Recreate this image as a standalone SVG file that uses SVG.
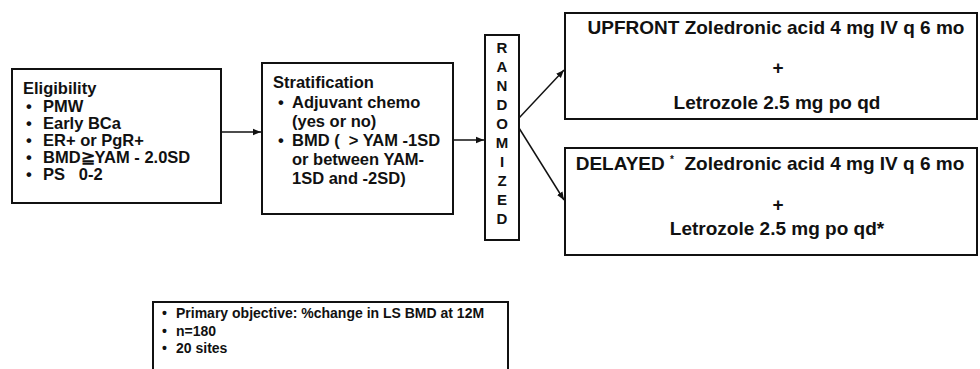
<svg xmlns="http://www.w3.org/2000/svg" width="980" height="369" viewBox="0 0 980 369">
  <defs>
    <style>
      .box { fill: #fff; stroke: #111; stroke-width: 2; }
      .t { font-family: "Liberation Sans", Arial, sans-serif; font-weight: bold; fill: #111; }
      .h { font-size: 16.5px; }
      .arm { font-size: 19px; text-anchor: middle; }
      .rnd { font-size: 15px; text-anchor: middle; }
      .note { font-size: 14px; }
      .conn { stroke: #111; stroke-width: 1.5; fill: none; marker-end: url(#ah); }
    </style>
    <marker id="ah" viewBox="0 0 10 10" refX="10" refY="5" markerWidth="8" markerHeight="8" markerUnits="userSpaceOnUse" orient="auto">
      <path d="M0,1 L10,5 L0,9 z" fill="#111"/>
    </marker>
  </defs>

  <g id="connectors">
    <line class="conn" x1="221" y1="132" x2="261" y2="132"/>
    <line class="conn" x1="453" y1="140" x2="484" y2="140"/>
    <line class="conn" x1="519" y1="118" x2="564" y2="70"/>
    <line class="conn" x1="519" y1="128" x2="564" y2="200"/>
  </g>

  <g id="eligibility">
    <rect class="box" x="12" y="69" width="209" height="134"/>
    <text class="t h" x="23" y="94">Eligibility</text>
    <text class="t h" x="26" y="112">•</text><text class="t h" x="43" y="112">PMW</text>
    <text class="t h" x="26" y="129">•</text><text class="t h" x="43" y="129">Early BCa</text>
    <text class="t h" x="26" y="146">•</text><text class="t h" x="43" y="146">ER+ or PgR+</text>
    <text class="t h" x="26" y="163">•</text><text class="t h" x="43" y="163">BMD≧YAM - 2.0SD</text>
    <text class="t h" x="26" y="180">•</text><text class="t h" x="43" y="180" xml:space="preserve">PS   0-2</text>
  </g>

  <g id="stratification">
    <rect class="box" x="262" y="63" width="191" height="151"/>
    <text class="t h" x="273" y="88">Stratification</text>
    <text class="t h" x="278" y="108">•</text><text class="t h" x="292" y="108">Adjuvant chemo</text>
    <text class="t h" x="292" y="127">(yes or no)</text>
    <text class="t h" x="278" y="146">•</text><text class="t h" x="292" y="146" xml:space="preserve">BMD (  &gt; YAM -1SD</text>
    <text class="t h" x="292" y="165">or between YAM-</text>
    <text class="t h" x="292" y="184">1SD and -2SD)</text>
  </g>

  <g id="randomized">
    <rect class="box" x="485" y="35" width="34" height="205"/>
    <text class="t rnd" x="502" y="53">R</text>
    <text class="t rnd" x="502" y="72">A</text>
    <text class="t rnd" x="502" y="91">N</text>
    <text class="t rnd" x="502" y="110">D</text>
    <text class="t rnd" x="502" y="129">O</text>
    <text class="t rnd" x="502" y="148">M</text>
    <text class="t rnd" x="502" y="167">I</text>
    <text class="t rnd" x="502" y="186">Z</text>
    <text class="t rnd" x="502" y="205">E</text>
    <text class="t rnd" x="502" y="224">D</text>
  </g>

  <g id="upfront">
    <rect class="box" x="565" y="13" width="412" height="106"/>
    <text class="t arm" x="776" y="34">UPFRONT Zoledronic acid 4 mg IV q 6 mo</text>
    <text class="t arm" x="778" y="74">+</text>
    <text class="t arm" x="777" y="109">Letrozole 2.5 mg po qd</text>
  </g>

  <g id="delayed">
    <rect class="box" x="565" y="148" width="412" height="107"/>
    <text class="t arm" x="770" y="170" xml:space="preserve">DELAYED <tspan font-size="10" dy="-7">*</tspan><tspan dy="7">  Zoledronic acid 4 mg IV q 6 mo</tspan></text>
    <text class="t arm" x="778" y="211">+</text>
    <text class="t arm" x="777" y="235">Letrozole 2.5 mg po qd*</text>
  </g>

  <g id="notes">
    <rect class="box" x="153" y="302" width="355" height="80"/>
    <text class="t note" x="162" y="318">•</text><text class="t note" x="176" y="318">Primary objective: %change in LS BMD at 12M</text>
    <text class="t note" x="162" y="336">•</text><text class="t note" x="176" y="336">n=180</text>
    <text class="t note" x="162" y="353">•</text><text class="t note" x="176" y="353">20 sites</text>
  </g>
</svg>
